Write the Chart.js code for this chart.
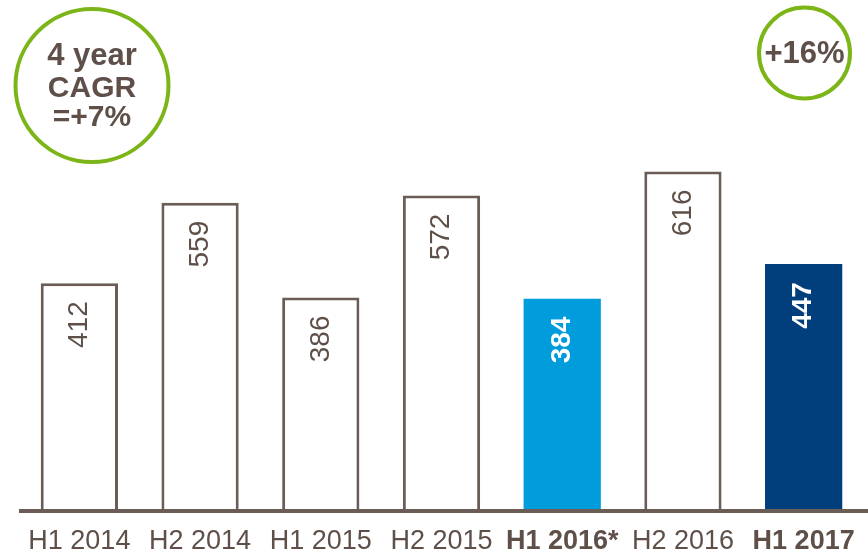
<!DOCTYPE html>
<html>
<head>
<meta charset="utf-8">
<script src="https://cdn.jsdelivr.net/npm/chart.js@4"></script>
<style>
html,body{margin:0;padding:0;background:#fff;}
#wrap{width:868px;height:556px;position:relative;}
</style>
</head>
<body>
<div id="wrap"><canvas id="c" width="868" height="556"></canvas></div>
<script>
const categories = ['H1 2014','H2 2014','H1 2015','H2 2015','H1 2016*','H2 2016','H1 2017'];
const values = [412, 559, 386, 572, 384, 616, 447];
const boldLabels = [false,false,false,false,true,false,true];
const fillColors = ['#ffffff','#ffffff','#ffffff','#ffffff','#009cdc','#ffffff','#003e7c'];
const cagrText = ['4 year','CAGR','=+7%'];
const growthText = '+16%';

const BROWN = '#6b5d55';
const TEXT = '#5e5049';
const GREEN = '#7cb518';
const FONT = "'Liberation Sans', Arial, sans-serif";

const borderColors = fillColors.map(c => c === '#ffffff' ? BROWN : c);
const borderWidths = fillColors.map(c => c === '#ffffff' ? 3 : 0);

const overlay = {
  id: 'overlay',
  afterDatasetsDraw(chart) {
    const ctx = chart.ctx;
    const ca = chart.chartArea;
    ctx.save();
    ctx.strokeStyle = BROWN;
    ctx.lineWidth = 4;
    ctx.beginPath();
    ctx.moveTo(ca.left, ca.bottom + 2);
    ctx.lineTo(ca.right + 4, ca.bottom + 2);
    ctx.stroke();
    ctx.restore();

    const meta = chart.getDatasetMeta(0);
    meta.data.forEach((bar, i) => {
      const filled = fillColors[i] !== '#ffffff';
      ctx.save();
      ctx.translate(bar.x, bar.y + 18);
      ctx.rotate(-Math.PI / 2);
      ctx.textAlign = 'right';
      ctx.textBaseline = 'middle';
      ctx.fillStyle = filled ? '#ffffff' : TEXT;
      ctx.font = (filled ? 'bold ' : '') + '28px ' + FONT;
      ctx.fillText(String(values[i]), 0, 0);
      ctx.restore();
    });

    ctx.save();
    ctx.strokeStyle = GREEN;
    ctx.lineWidth = 4;
    ctx.beginPath();
    ctx.arc(92, 85.5, 76.5, 0, Math.PI * 2);
    ctx.stroke();
    ctx.beginPath();
    ctx.arc(804.5, 53, 45.5, 0, Math.PI * 2);
    ctx.stroke();
    ctx.fillStyle = TEXT;
    ctx.textAlign = 'center';
    ctx.textBaseline = 'alphabetic';
    ctx.font = 'bold 31px ' + FONT;
    ctx.fillText(cagrText[0], 92, 65);
    ctx.font = 'bold 30px ' + FONT;
    ctx.fillText(cagrText[1], 92, 97);
    ctx.fillText(cagrText[2], 92, 126);
    ctx.font = 'bold 31px ' + FONT;
    ctx.fillText(growthText, 804.5, 63);
    ctx.restore();
  }
};

new Chart(document.getElementById('c'), {
  type: 'bar',
  data: {
    labels: categories,
    datasets: [{
      data: values,
      backgroundColor: fillColors,
      borderColor: borderColors,
      borderWidth: borderWidths,
      borderSkipped: 'bottom',
      barPercentage: 0.64,
      categoryPercentage: 1.0
    }]
  },
  options: {
    responsive: false,
    animation: false,
    devicePixelRatio: 1,
    layout: { padding: { left: 19, right: 4, top: 0, bottom: -19 } },
    plugins: { legend: { display: false }, tooltip: { enabled: false } },
    scales: {
      x: {
        grid: { display: false, drawTicks: false },
        border: { display: false },
        ticks: {
          autoSkip: false,
          maxRotation: 0,
          minRotation: 0,
          padding: 8,
          color: TEXT,
          font: (c) => ({ family: FONT, size: 27, lineHeight: 1.85, weight: boldLabels[c.index] ? 'bold' : 'normal' })
        }
      },
      y: {
        display: false,
        min: 0,
        max: 929
      }
    }
  },
  plugins: [overlay]
});
</script>
</body>
</html>
